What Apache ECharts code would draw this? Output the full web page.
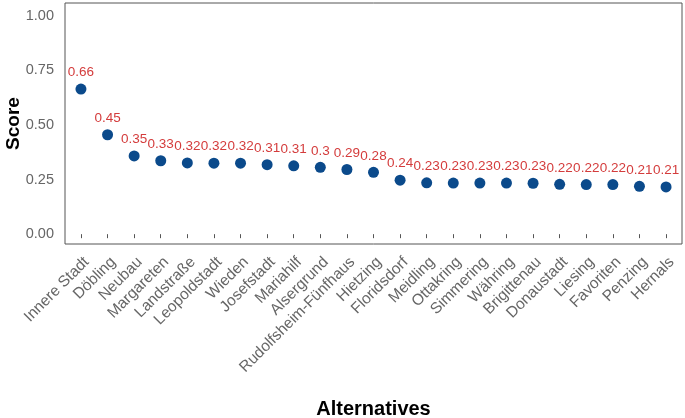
<!DOCTYPE html>
<html>
<head>
<meta charset="utf-8">
<script src="https://cdn.jsdelivr.net/npm/echarts@6/dist/echarts.min.js"></script>
<style>
html,body{margin:0;padding:0;background:#fff;}
#chart{width:685px;height:418px;}
</style>
</head>
<body>
<div id="chart"></div>
<script>
// Data
const categories = ["Innere Stadt","Döbling","Neubau","Margareten","Landstraße","Leopoldstadt","Wieden","Josefstadt","Mariahilf","Alsergrund","Rudolfsheim-Fünfhaus","Hietzing","Floridsdorf","Meidling","Ottakring","Simmering","Währing","Brigittenau","Donaustadt","Liesing","Favoriten","Penzing","Hernals"];
const scores = [0.664,0.455,0.358,0.336,0.326,0.325,0.325,0.318,0.313,0.306,0.296,0.283,0.247,0.235,0.234,0.234,0.234,0.233,0.228,0.227,0.227,0.219,0.216];
const scoreLabels = ["0.66","0.45","0.35","0.33","0.32","0.32","0.32","0.31","0.31","0.3","0.29","0.28","0.24","0.23","0.23","0.23","0.23","0.23","0.22","0.22","0.22","0.21","0.21"];
const yTicks = [0, 0.25, 0.5, 0.75, 1];

const FONT = '"Liberation Sans", Arial, sans-serif';
const chart = echarts.init(document.getElementById('chart'), null, {renderer:'canvas'});
const idx = categories.map((c,i)=>i);
chart.setOption({
  animation:false,
  backgroundColor:'#fff',
  grid:{left:65, top:3, right:3, bottom:174, show:true, borderColor:'#555', borderWidth:1,
    backgroundColor:'transparent', containLabel:false, outerBoundsMode:'none'},
  xAxis:{
    type:'value', min:-0.6, max:categories.length-1+0.6,
    name:'Alternatives', nameLocation:'middle', nameGap:155, nameMoveOverlap:false,
    nameTextStyle:{fontFamily:FONT, fontWeight:'bold', fontSize:20, color:'#000'},
    axisLine:{show:false},
    splitLine:{show:false},
    axisTick:{show:true, length:4, lineStyle:{color:'#555'}, customValues:idx},
    axisLabel:{show:true, rotate:45, margin:10, verticalAlign:'top', fontFamily:FONT, fontSize:15.5, color:'#666',
      customValues:idx, formatter:v=>categories[Math.round(v)]}
  },
  yAxis:{
    type:'value', min:-0.045, max:1.058,
    name:'Score', nameLocation:'middle', nameGap:42, nameRotate:90, nameMoveOverlap:false,
    nameTextStyle:{fontFamily:FONT, fontWeight:'bold', fontSize:19, color:'#000'},
    axisLine:{show:false},
    splitLine:{show:false},
    axisTick:{show:false, customValues:yTicks},
    axisLabel:{show:true, margin:11, fontFamily:FONT, fontSize:14.5, color:'#666',
      customValues:yTicks, formatter:v=>v.toFixed(2)}
  },
  series:[{
    type:'scatter',
    data:scores.map((v,i)=>[i,v]),
    symbolSize:11,
    itemStyle:{color:'#0b4a8b', opacity:1},
    label:{show:true, position:'top', distance:4, fontFamily:FONT, fontSize:13.5, color:'#d43c3c',
      formatter:p=>scoreLabels[p.dataIndex]}
  }]
});
</script>
</body>
</html>
